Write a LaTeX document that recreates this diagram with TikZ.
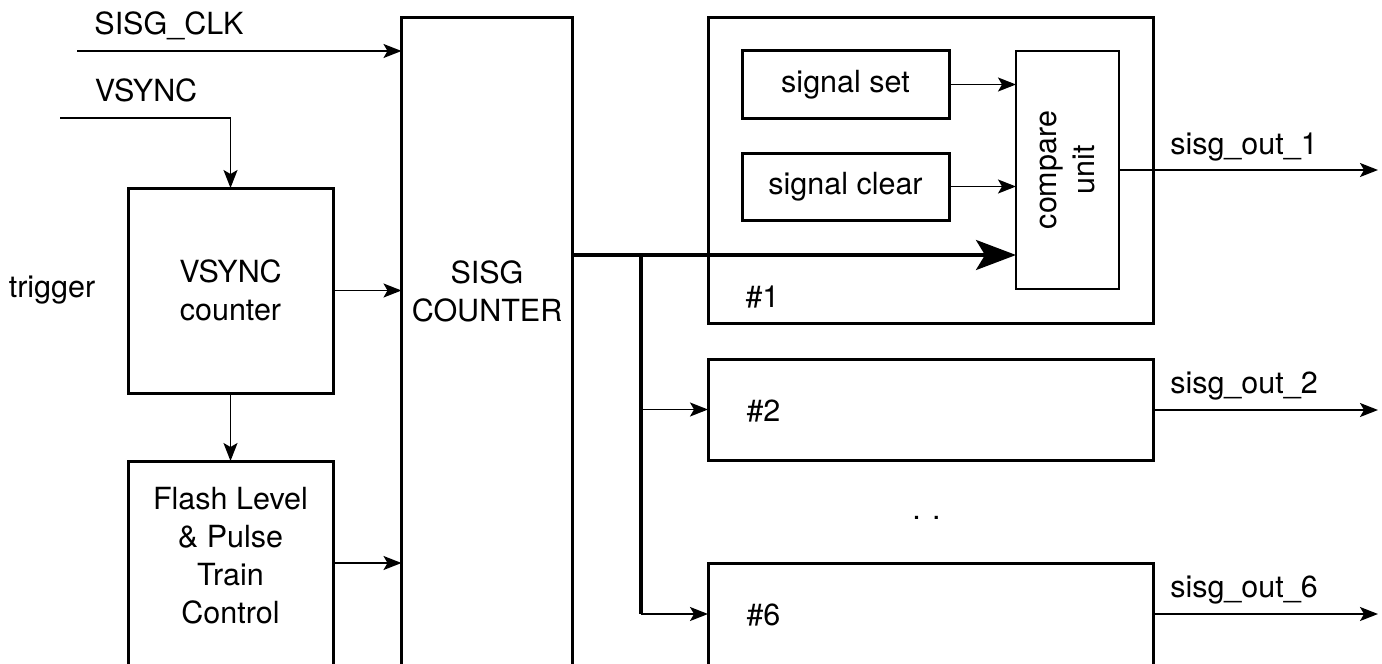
\documentclass[tikz,border=0pt]{standalone}
\usepackage{fontspec}
\setmainfont{TeX Gyre Heros}
\usetikzlibrary{arrows.meta, positioning}

\begin{document}
\begin{tikzpicture}[
    x=1pt, y=-1pt,
    font=\fontsize{30.5}{38}\selectfont,
    >={Stealth[length=18pt, width=14pt, inset=4pt]},
    block/.style={draw, line width=3pt, inner sep=0pt, outer sep=0pt},
    thinblock/.style={draw, line width=1.6pt, inner sep=0pt, outer sep=0pt},
    sig/.style={->, line width=1.7pt},
    bus/.style={line width=3.5pt},
    bigtip/.style={-{Stealth[length=40pt, width=30pt, inset=9pt]}}
]
\useasboundingbox (0,0) rectangle (1382,664);
\clip (0,0) rectangle (1382,664);

% Left column
\node[block, align=center, minimum width=205, minimum height=205] (vcnt) at (230.5, 290.5) {VSYNC\\counter};
\node[block, anchor=north, minimum width=205, minimum height=240] (flash) at (230.5, 461) {};
\node[align=center] (flashtxt) at (230.5, 556) {Flash Level\\\& Pulse\\Train\\Control};
\node[anchor=base] (trig) at (52, 297) {trigger};

% SISG counter
\node[block, anchor=north west, minimum width=171, minimum height=700] (sisg) at (401.5, 17) {};
\node[align=center] (sisgtxt) at (487, 291) {SISG\\COUNTER};

% Inputs
\node[anchor=base] (clklbl) at (169, 34) {SISG\_CLK};
\node[anchor=base] (vslbl) at (146, 101) {VSYNC};
\coordinate (clkin) at (77, 51);
\coordinate (vsin) at (60, 118);
\coordinate (flashout) at (333, 563);
\draw[sig] (clkin) -- (clkin -| sisg.west);
\draw[sig] (vsin) -| (vcnt.north);
\draw[sig] (vcnt.east) -- (vcnt.east -| sisg.west);
\draw[sig] (vcnt.south) -- (flash.north);
\draw[sig] (flashout) -- (flashout -| sisg.west);

% Channel #1
\node[block, minimum width=445, minimum height=306] (ch1) at (930.5, 170) {};
\node[anchor=base west] (ch1lbl) at (742, 307) {\#1};
\node[block, minimum width=207, minimum height=68] (sset) at (845.5, 84.5) {signal set};
\node[block, minimum width=207, minimum height=67] (sclr) at (845.5, 186.5) {signal clear};
\node[thinblock, minimum width=103, minimum height=238] (cmp) at (1067.5, 170) {};
\node[rotate=90, align=center] (cmptxt) at (cmp) {compare\\unit};
\draw[sig] (sset.east) -- (sset.east -| cmp.west);
\draw[sig] (sclr.east) -- (sclr.east -| cmp.west);

% Channels #2 and #6
\node[block, minimum width=445, minimum height=101] (ch2) at (930.5, 409.5) {};
\node[anchor=base west] (ch2lbl) at (743, 421) {\#2};
\node[block, anchor=north, minimum width=445, minimum height=150] (ch6) at (930.5, 563) {};
\node[anchor=base west] (ch6lbl) at (743, 625) {\#6};
\node[anchor=base] (dots) at (926.5, 519) {. .};

% Counter bus
\coordinate (tap) at (641, 255);
\coordinate (ch6in) at (708, 614);
\draw[bus, bigtip] (sisg.east |- tap) -- (tap -| cmp.west);
\draw[bus] (tap) -- (tap |- ch6in);
\draw[sig] (tap |- ch2.west) -- (ch2.west);
\draw[sig] (tap |- ch6in) -- (ch6in);

% Outputs
\coordinate (out1) at (1378, 170);
\coordinate (out2) at (1378, 410);
\coordinate (out6) at (1378, 614);
\draw[sig] (cmp.east |- out1) -- (out1);
\draw[sig] (ch2.east |- out2) -- (out2);
\draw[sig] (ch6.east |- out6) -- (out6);
\node[anchor=base] (o1lbl) at (1244, 154) {sisg\_out\_1};
\node[anchor=base] (o2lbl) at (1244, 393) {sisg\_out\_2};
\node[anchor=base] (o6lbl) at (1244, 597) {sisg\_out\_6};

\end{tikzpicture}
\end{document}
